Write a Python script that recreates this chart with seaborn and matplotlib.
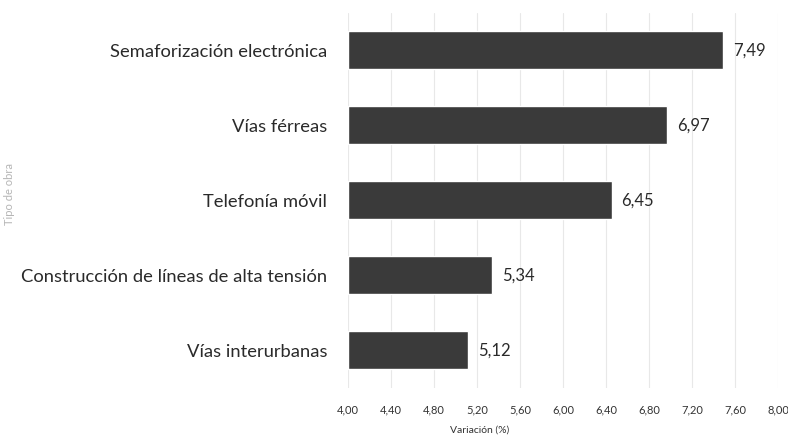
import matplotlib
matplotlib.use("Agg")
import matplotlib.pyplot as plt
import seaborn as sns
import pandas as pd

categories = ["Semaforización electrónica", "Vías férreas", "Telefonía móvil",
              "Construcción de líneas de alta tensión", "Vías interurbanas"]
values = [7.49, 6.97, 6.45, 5.34, 5.12]
xticks = [4.00, 4.40, 4.80, 5.20, 5.60, 6.00, 6.40, 6.80, 7.20, 7.60, 8.00]

sns.set_theme(style="white")
plt.rcParams['font.family'] = ['Lato', 'DejaVu Sans']

df = pd.DataFrame({"cat": categories, "val": values})
fig = plt.figure(figsize=(7.88, 4.38), dpi=100)
ax = fig.add_axes([0.4416, 0.115, 0.546, 0.856])

sns.barplot(data=df, y="cat", x="val", color="#3a3a3a", orient="h", width=0.5,
            ax=ax, saturation=1)
for p in ax.patches:
    w = p.get_width()
    p.set_x(4.0)
    p.set_width(w - 4.0)

ax.set_xlim(4.0, 8.0)
ax.set_xticks(xticks)
ax.set_xticklabels([f"{t:.2f}".replace(".", ",") for t in xticks], fontsize=8, color="#333333")
ax.tick_params(axis="y", labelsize=13.2, length=0, pad=15, labelcolor="#2a2a2a")
ax.tick_params(axis="x", length=0, pad=12)
ax.grid(axis="x", color="#e8e8e8", linewidth=0.8)
ax.set_axisbelow(True)
for s in ax.spines.values():
    s.set_visible(False)

for i, v in enumerate(values):
    ax.text(v + 0.09, i, f"{v:.2f}".replace(".", ","), va="center", ha="left",
            fontsize=12, color="#2a2a2a")

ax.set_xlabel("Variación (%)", fontsize=7.5, color="#333333")
ax.xaxis.set_label_coords((5.22 - 4.0) / 4.0, -0.1)
ax.set_ylabel("")
fig.text(0.012, 0.557, "Tipo de obra", rotation=90, va="center", ha="center",
         fontsize=8, color="#b5b5b5")

fig.savefig("out.png", dpi=100, facecolor="white")
